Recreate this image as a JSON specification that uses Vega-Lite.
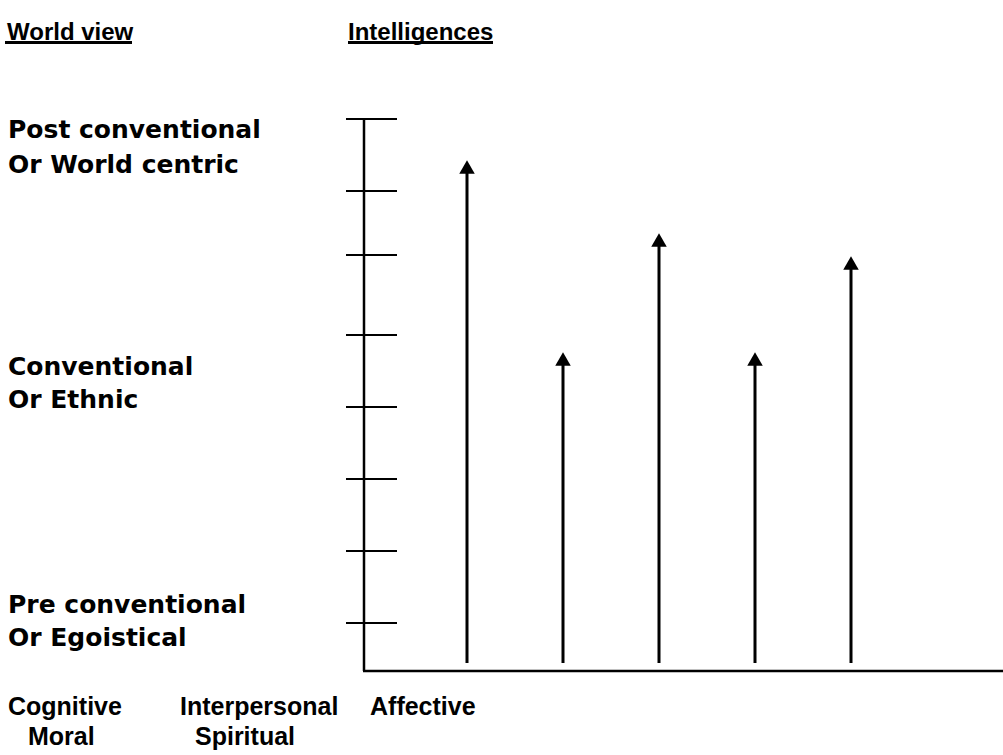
{
  "$schema": "https://vega.github.io/schema/vega-lite/v6.json",
  "width": 1003,
  "height": 755,
  "autosize": "none",
  "padding": 0,
  "background": "white",
  "config": {"view": {"stroke": null}},
  "datasets": {
    "ticks": [
      {"x": 34.6, "x2": 39.7, "y": 63.6},
      {"x": 34.6, "x2": 39.7, "y": 56.4},
      {"x": 34.6, "x2": 39.7, "y": 50.0},
      {"x": 34.6, "x2": 39.7, "y": 42.0},
      {"x": 34.6, "x2": 39.7, "y": 34.8},
      {"x": 34.6, "x2": 39.7, "y": 27.6},
      {"x": 34.6, "x2": 39.7, "y": 20.4},
      {"x": 34.6, "x2": 39.7, "y": 13.2}
    ],
    "axes": [
      {"x": 36.4, "x2": 36.4, "y": 63.6, "y2": 8.4},
      {"x": 36.3, "x2": 100.3, "y": 8.4, "y2": 8.4}
    ],
    "arrows": [
      {"x": 46.7, "base": 9.2, "tip": 59.5},
      {"x": 56.3, "base": 9.2, "tip": 40.3},
      {"x": 65.9, "base": 9.2, "tip": 52.2},
      {"x": 75.5, "base": 9.2, "tip": 40.3},
      {"x": 85.1, "base": 9.2, "tip": 49.9}
    ],
    "titles": [
      {"label": "World view", "x": 0.7, "y": 71.5, "ux": 0.5, "ux2": 13.2, "uy": 71.25},
      {"label": "Intelligences", "x": 34.8, "y": 71.5, "ux": 34.8, "ux2": 49.3, "uy": 71.25}
    ],
    "levels": [
      {"label": "Post conventional", "x": 0.8, "y": 61.7},
      {"label": "Or World centric", "x": 0.8, "y": 58.2},
      {"label": "Conventional", "x": 0.8, "y": 38.0},
      {"label": "Or Ethnic", "x": 0.8, "y": 34.7},
      {"label": "Pre conventional", "x": 0.8, "y": 14.2},
      {"label": "Or Egoistical", "x": 0.8, "y": 10.9}
    ],
    "labels": [
      {"label": "Cognitive", "x": 0.8, "y": 4.0},
      {"label": "Interpersonal", "x": 18.0, "y": 4.0},
      {"label": "Affective", "x": 37.0, "y": 4.0},
      {"label": "Moral", "x": 2.8, "y": 1.0},
      {"label": "Spiritual", "x": 19.5, "y": 1.0}
    ]
  },
  "layer": [
    {
      "data": {"name": "ticks"},
      "mark": {"type": "rule", "color": "black", "strokeWidth": 2},
      "encoding": {
        "x": {"field": "x", "type": "quantitative", "scale": {"domain": [0, 100.3], "nice": false, "zero": false}, "axis": null},
        "x2": {"field": "x2"},
        "y": {"field": "y", "type": "quantitative", "scale": {"domain": [0, 75.5], "nice": false, "zero": false}, "axis": null}
      }
    },
    {
      "data": {"name": "axes"},
      "mark": {"type": "rule", "color": "black", "strokeWidth": 2.5},
      "encoding": {
        "x": {"field": "x", "type": "quantitative"},
        "x2": {"field": "x2"},
        "y": {"field": "y", "type": "quantitative"},
        "y2": {"field": "y2"}
      }
    },
    {
      "data": {"name": "arrows"},
      "mark": {"type": "rule", "color": "black", "strokeWidth": 3, "y2Offset": 10},
      "encoding": {
        "x": {"field": "x", "type": "quantitative"},
        "y": {"field": "base", "type": "quantitative"},
        "y2": {"field": "tip"}
      }
    },
    {
      "data": {"name": "arrows"},
      "mark": {"type": "point", "shape": "triangle-up", "filled": true, "color": "black", "opacity": 1, "size": 240, "yOffset": 7},
      "encoding": {
        "x": {"field": "x", "type": "quantitative"},
        "y": {"field": "tip", "type": "quantitative"}
      }
    },
    {
      "data": {"name": "titles"},
      "mark": {"type": "text", "align": "left", "baseline": "alphabetic", "font": "Liberation Sans", "fontWeight": "bold", "fontSize": 24, "color": "black"},
      "encoding": {
        "x": {"field": "x", "type": "quantitative"},
        "y": {"field": "y", "type": "quantitative"},
        "text": {"field": "label"}
      }
    },
    {
      "data": {"name": "titles"},
      "mark": {"type": "rule", "color": "black", "strokeWidth": 3},
      "encoding": {
        "x": {"field": "ux", "type": "quantitative"},
        "x2": {"field": "ux2"},
        "y": {"field": "uy", "type": "quantitative"}
      }
    },
    {
      "data": {"name": "levels"},
      "mark": {"type": "text", "align": "left", "baseline": "alphabetic", "font": "DejaVu Sans", "fontWeight": "bold", "fontSize": 25, "color": "black"},
      "encoding": {
        "x": {"field": "x", "type": "quantitative"},
        "y": {"field": "y", "type": "quantitative"},
        "text": {"field": "label"}
      }
    },
    {
      "data": {"name": "labels"},
      "mark": {"type": "text", "align": "left", "baseline": "alphabetic", "font": "Liberation Sans", "fontWeight": "bold", "fontSize": 25, "color": "black"},
      "encoding": {
        "x": {"field": "x", "type": "quantitative"},
        "y": {"field": "y", "type": "quantitative"},
        "text": {"field": "label"}
      }
    }
  ]
}
